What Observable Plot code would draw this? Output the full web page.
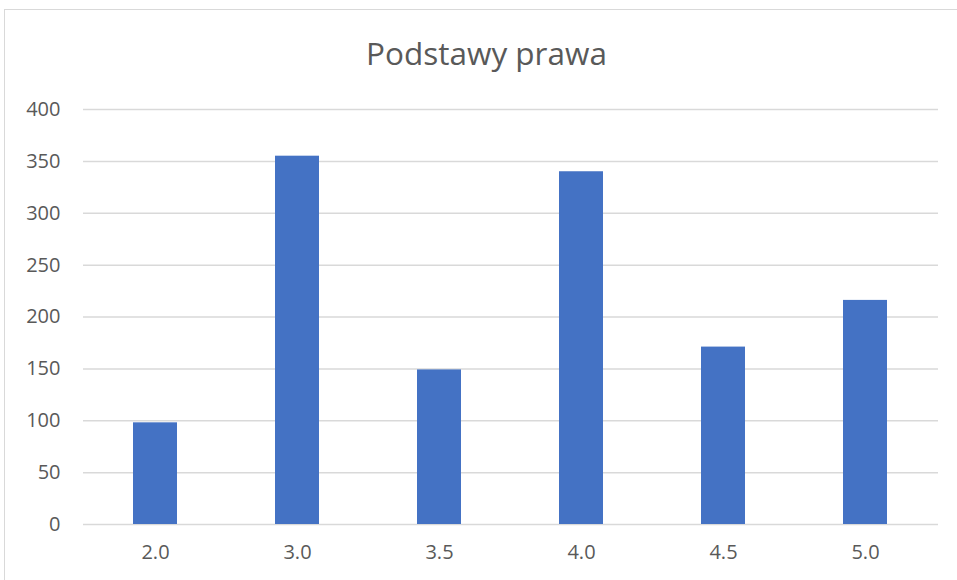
<!DOCTYPE html>
<html>
<head>
<meta charset="utf-8">
<script src="https://cdn.jsdelivr.net/npm/d3@7"></script>
<script src="https://cdn.jsdelivr.net/npm/@observablehq/plot@0.6"></script>
<style>
  html, body { margin: 0; padding: 0; background: #fff; width: 957px; height: 580px; overflow: hidden; }
  #frame { position: absolute; left: 4px; top: 9px; width: 1200px; height: 1200px; border: 1.5px solid #d9d9d9; box-sizing: border-box; }
  #title { position: absolute; left: 0; top: 0; width: 973px; text-align: center; font-family: "Open Sans", sans-serif; font-size: 31.5px; color: #595959; line-height: 1; padding-top: 37px; }
  #chart { position: absolute; left: 0; top: 90px; }
</style>
</head>
<body>
<div id="frame"></div>
<div id="title">Podstawy prawa</div>
<div id="chart"></div>
<script>
const categories = ["2.0", "3.0", "3.5", "4.0", "4.5", "5.0"];
const counts = [98, 355, 149, 340, 171, 216];
const yTicks = [0, 50, 100, 150, 200, 250, 300, 350, 400];

const data = categories.map((c, i) => ({grade: c, count: counts[i]}));

const plot = Plot.plot({
  width: 957,
  height: 490,
  marginTop: 19,
  marginBottom: 56,
  marginLeft: 83,
  marginRight: 19,
  style: {fontFamily: "Open Sans, sans-serif", fontSize: "20px", color: "#595959", background: "transparent"},
  x: {domain: categories, paddingInner: 0.69, paddingOuter: 0.345, align: 0.5, label: null},
  y: {domain: [0, 400], label: null},
  marks: [
    Plot.gridY(yTicks, {stroke: "#d9d9d9", strokeOpacity: 1, strokeWidth: 1.5}),
    Plot.barY(data, {x: "grade", y: "count", fill: "#4472c4"}),
    Plot.axisY(yTicks, {tickSize: 0, tickPadding: 23, fill: "#595959", fontSize: 20}),
    Plot.axisX({tickSize: 0, tickPadding: 20, fill: "#595959", fontSize: 20})
  ]
});
document.getElementById("chart").appendChild(plot);
</script>
</body>
</html>
